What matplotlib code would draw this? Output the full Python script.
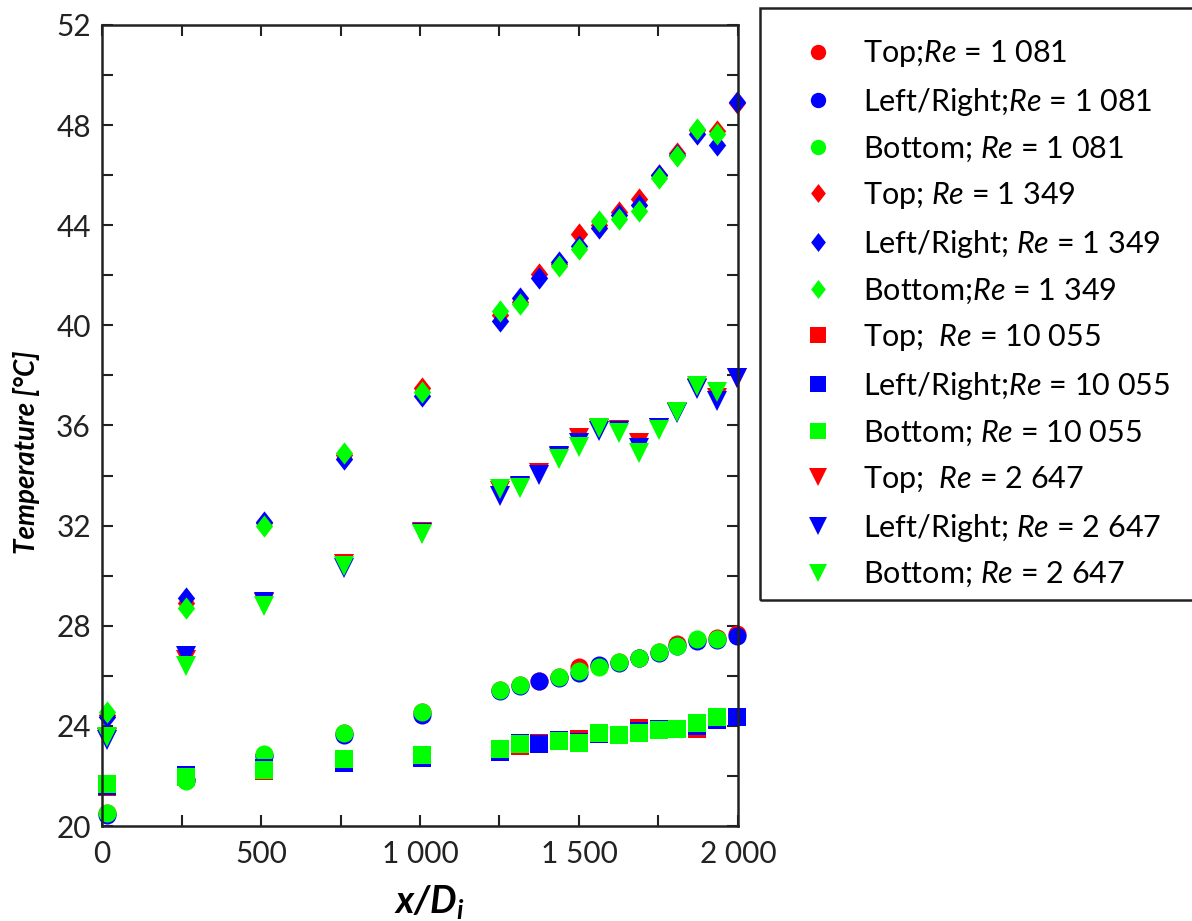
import numpy as np
import matplotlib
matplotlib.use("Agg")
import matplotlib.pyplot as plt
from matplotlib.lines import Line2D
from matplotlib.patches import Rectangle
from matplotlib.ticker import MultipleLocator, FuncFormatter

plt.rcParams['font.family'] = ['Lato', 'DejaVu Sans']
plt.rcParams['mathtext.fontset'] = 'custom'
plt.rcParams['mathtext.rm'] = 'Lato'
plt.rcParams['mathtext.it'] = 'Lato:italic'
plt.rcParams['mathtext.bf'] = 'Lato:bold:italic'

nan = np.nan
x_pos = [15, 265, 510, 760, 1005, 1253, 1316, 1375, 1436, 1499, 1563, 1626,
         1688, 1751, 1808, 1870, 1933, 1996]

# Re = 1 081 (circles)
re1081_top = [20.5, 21.85, 22.85, 23.7, 24.55, 25.45, 25.62, 25.8, 25.95, 26.35, 26.4, 26.55,
              26.72, 26.95, 27.28, 27.45, 27.52, 27.68]
re1081_lr = [20.45, 21.85, 22.8, 23.63, 24.45, 25.4, 25.6, 25.78, 25.93, 26.1, 26.42, 26.53,
             26.7, 26.93, 27.2, 27.41, 27.45, 27.61]
re1081_bot = [20.52, 21.8, 22.87, 23.72, 24.55, 25.45, 25.62, nan, 25.95, 26.19, 26.35, 26.55,
              26.72, 26.95, 27.21, 27.48, 27.48, nan]

# Re = 1 349 (diamonds)
re1349_top = [24.45, 28.9, 32.1, 34.82, 37.5, 40.4, 40.95, 42.04, 42.45, 43.64, 44.0, 44.51,
              45.05, 46.0, 46.9, 47.8, 47.75, 48.9]
re1349_lr = [24.35, 29.12, 32.15, 34.66, 37.17, 40.19, 41.09, 41.88, 42.55, 43.19, 43.88, 44.41,
             44.8, 46.0, 46.8, 47.66, 47.2, 48.92]
re1349_bot = [24.55, 28.69, 32.0, 34.91, 37.34, 40.59, 40.85, nan, 42.39, 43.06, 44.17, 44.25,
              44.57, 45.9, 46.77, 47.83, 47.65, nan]

# Re = 10 055 (squares)
re10055_top = [21.55, 22.0, 22.21, 22.6, 22.75, 23.0, 23.2, 23.3, 23.4, 23.47, 23.7, 23.64,
               23.93, 23.85, 23.88, 23.89, 24.3, 24.34]
re10055_lr = [21.6, 22.05, 22.32, 22.5, 22.7, 22.96, 23.3, 23.27, 23.45, 23.35, 23.67, 23.64,
              23.8, 23.87, 23.88, 23.98, 24.22, 24.34]
re10055_bot = [21.69, 21.95, 22.25, 22.68, 22.82, 23.07, 23.27, nan, 23.4, 23.33, 23.72, 23.64,
               23.73, 23.82, 23.88, 24.1, 24.34, nan]

# Re = 2 647 (down triangles)
re2647_top = [23.5, 26.63, 28.9, 30.45, 31.75, 33.4, 33.55, 34.09, 34.75, 35.51, 35.85, 35.83,
              35.29, 35.9, 36.55, 37.5, 37.1, 37.9]
re2647_lr = [23.45, 26.78, 28.94, 30.3, 31.7, 33.17, 33.59, 34.02, 34.78, 35.3, 35.78, 35.8,
             35.1, 35.91, 36.5, 37.45, 36.97, 37.9]
re2647_bot = [23.56, 26.41, 28.8, 30.4, 31.65, 33.47, 33.49, nan, 34.67, 35.13, 35.9, 35.71,
              34.9, 35.83, 36.55, 37.56, 37.33, nan]

labels = [r"Top;$\mathit{Re}$ = 1 081", r"Left/Right;$\mathit{Re}$ = 1 081",
          r"Bottom; $\mathit{Re}$ = 1 081",
          r"Top; $\mathit{Re}$ = 1 349", r"Left/Right; $\mathit{Re}$ = 1 349",
          r"Bottom;$\mathit{Re}$ = 1 349",
          r"Top;  $\mathit{Re}$ = 10 055", r"Left/Right;$\mathit{Re}$ = 10 055",
          r"Bottom; $\mathit{Re}$ = 10 055",
          r"Top;  $\mathit{Re}$ = 2 647", r"Left/Right; $\mathit{Re}$ = 2 647",
          r"Bottom; $\mathit{Re}$ = 2 647"]

red, blue, green = '#FF0000', '#0000FF', '#00FF00'
diamond = [(0, 1), (0.78, 0), (0, -1), (-0.78, 0), (0, 1)]

series = [
    (re1081_top, 'o', red, 13), (re1081_lr, 'o', blue, 13), (re1081_bot, 'o', green, 13),
    (re1349_top, diamond, red, 16), (re1349_lr, diamond, blue, 16), (re1349_bot, diamond, green, 16),
    (re10055_top, 's', red, 13), (re10055_lr, 's', blue, 13), (re10055_bot, 's', green, 13),
    (re2647_top, 'v', red, 14.5), (re2647_lr, 'v', blue, 14.5), (re2647_bot, 'v', green, 14.5),
]

fig = plt.figure(figsize=(11.92, 9.21), dpi=100)
ax = fig.add_axes([102 / 1192, 1 - 826 / 921, (738 - 102) / 1192, (826 - 25) / 921])

handles = []
for (vals, mk, col, ms), lab in zip(series, labels):
    ax.plot(x_pos, vals, linestyle='none', marker=mk, color=col, markersize=ms,
            markeredgewidth=0, clip_on=False)
    handles.append(Line2D([], [], linestyle='none', marker=mk, color=col,
                          markersize=ms * 0.85, markeredgewidth=0))

ax.set_xlim(0, 2000)
ax.set_ylim(20, 52)
ax.xaxis.set_major_locator(MultipleLocator(500))
ax.xaxis.set_minor_locator(MultipleLocator(250))
ax.yaxis.set_major_locator(MultipleLocator(4))
ax.yaxis.set_minor_locator(MultipleLocator(2))
ax.xaxis.set_major_formatter(FuncFormatter(lambda v, p: f"{int(v):,}".replace(",", " ")))
ax.tick_params(which='both', direction='in', top=True, right=True, width=1.5,
               labelsize=21.5, colors='#222222')
ax.tick_params(which='major', length=8)
ax.tick_params(which='minor', length=8)
ax.tick_params(axis='y', pad=8)
ax.tick_params(axis='x', pad=10)
for s in ax.spines.values():
    s.set_linewidth(1.8)
    s.set_color('#222222')

ax.set_ylabel("Temperature [°C]", fontsize=20, fontstyle='italic', fontweight='bold')
ax.yaxis.set_label_coords(-0.097, 0.466)
ax.set_xlabel(r"$\mathbf{x/D_i}$", fontsize=27)
ax.xaxis.set_label_coords(0.515, -0.071)

leg = fig.legend(handles, labels, loc='upper left', bbox_to_anchor=(790 / 1192, 1 - 26 / 921),
                 frameon=False, fontsize=22, labelspacing=0.54, handlelength=1.0,
                 handletextpad=1.0, borderaxespad=0)
fig.patches.append(Rectangle((760 / 1192, 1 - 600 / 921), 0.5, (600 - 8) / 921,
                             transform=fig.transFigure, fill=False, edgecolor='#222222',
                             linewidth=1.8))

fig.savefig("out.png", dpi=100)
